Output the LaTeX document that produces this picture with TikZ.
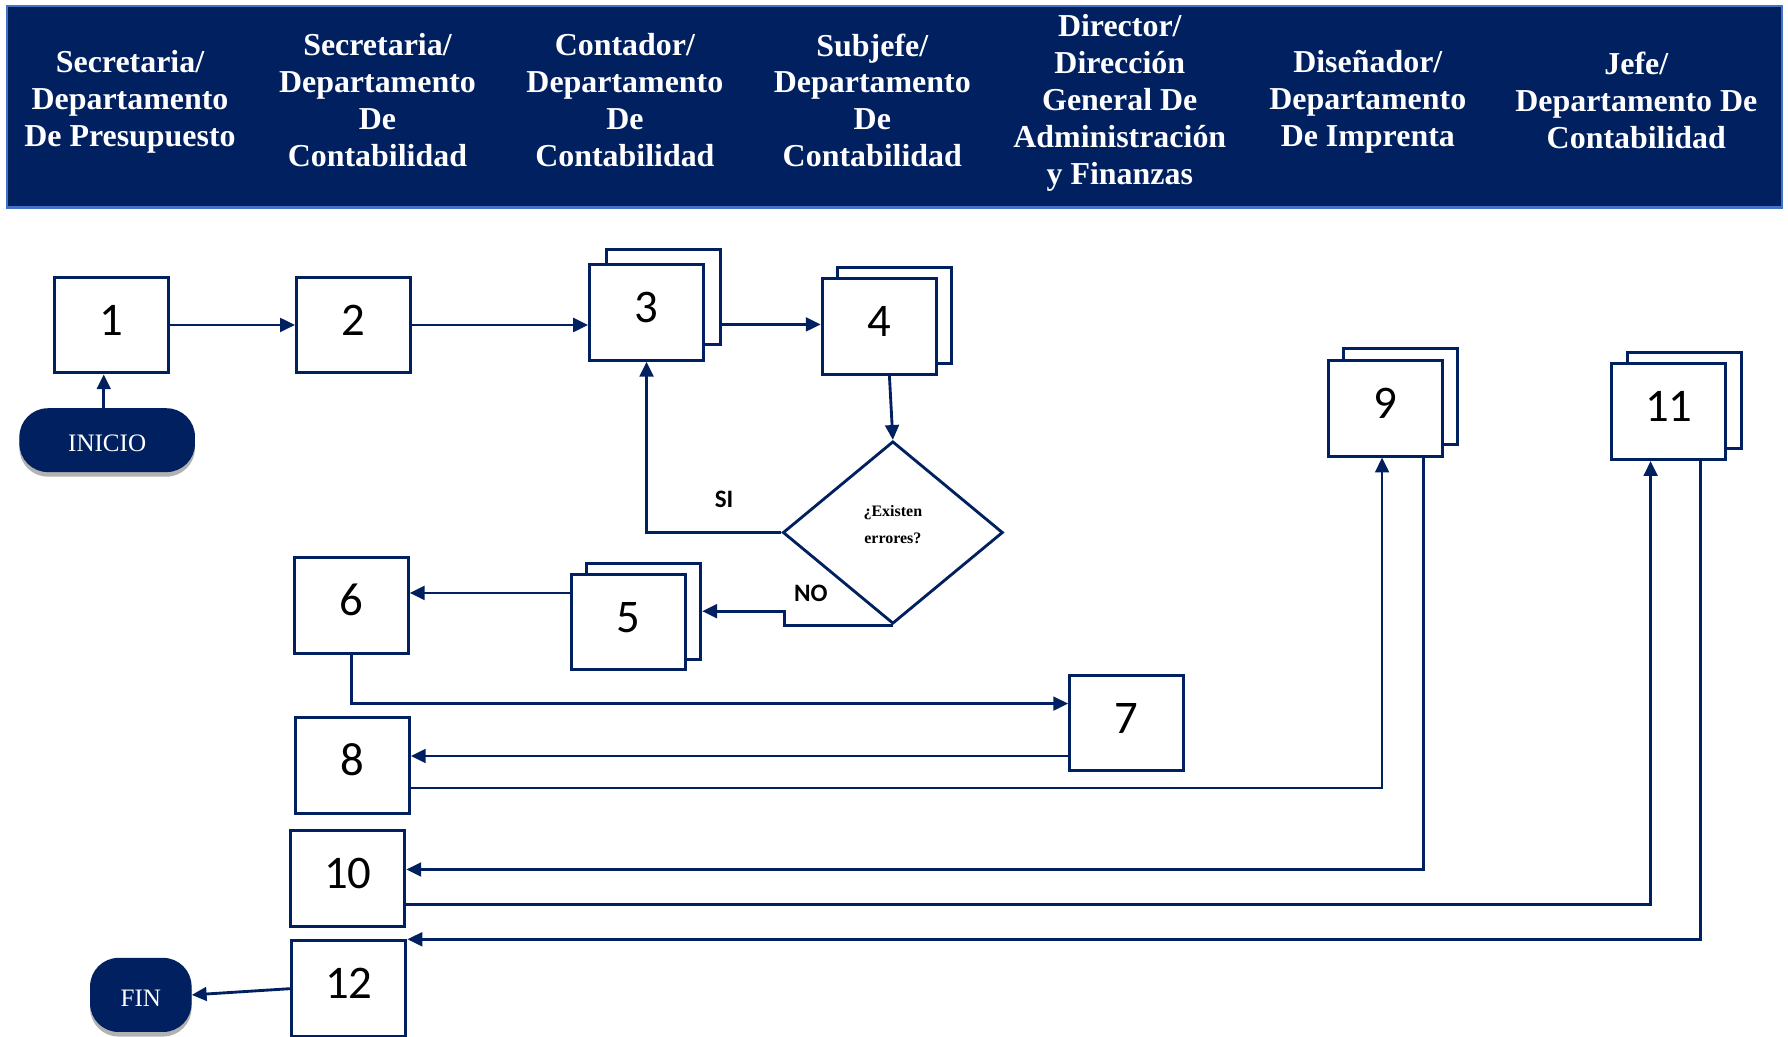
\documentclass[tikz,border=0pt]{standalone}
\usepackage{fontspec}
\setmainfont{Liberation Serif}
\newfontfamily\numfont{Carlito}
\usetikzlibrary{arrows.meta,shapes.geometric,shadows,calc}
\definecolor{navy}{RGB}{0,32,96}
\definecolor{rimblue}{RGB}{68,114,196}

\begin{document}
\begin{tikzpicture}[x=1pt,y=-1pt,
  flow/.style={draw=navy,line width=2.5pt,-{Triangle[length=13pt,width=12pt]}},
  stepbox/.style={draw=navy,line width=2.6pt,fill=white,minimum width=100pt,
    minimum height=84pt,inner sep=0pt,text height=18pt,text depth=0pt,
    font=\numfont\fontsize{41}{41}\selectfont},
  hdr/.style={text=white,align=center,inner sep=0pt,
    font=\bfseries\fontsize{28}{32.4}\selectfont},
  terminal/.style={fill=navy,rounded corners=25pt,text=white,inner sep=0pt,
    text height=20pt,text depth=0pt,font=\fontsize{22}{22}\selectfont,
    drop shadow={shadow xshift=0pt,shadow yshift=-4pt,fill=black,opacity=0.3}},
  decision/.style={diamond,draw=navy,line width=2.5pt,fill=white,inner sep=0pt,
    minimum width=193pt,minimum height=160pt},
  dectxt/.style={align=center,inner sep=0pt,
    font=\bfseries\fontsize{14}{23}\selectfont},
  branch/.style={font=\numfont\bfseries\fontsize{22}{22}\selectfont,inner sep=0pt}
]
% page
\path[fill=white,use as bounding box] (0,0) rectangle (1568,909);

% header band with the roles
\node[fill=navy,draw=rimblue,line width=2pt,minimum width=1557pt,minimum height=177pt,inner sep=0pt]
  (band) at (784.5,93.5) {};
\node[hdr] (h1) at (114,89) {Secretaria/\\Departamento\\De Presupuesto};
\node[hdr] (h2) at (331,88) {Secretaria/\\Departamento\\De\\Contabilidad};
\node[hdr] (h3) at (548,88) {Contador/\\Departamento\\De\\Contabilidad};
\node[hdr] (h4) at (765,88) {Subjefe/\\Departamento\\De\\Contabilidad};
\node[hdr] (h5) at (982,90) {Director/\\Dirección\\General De\\Administración\\y Finanzas};
\node[hdr] (h6) at (1199.5,89) {Diseñador/\\Departamento\\De Imprenta};
\node[hdr] (h7) at (1435,88) {Jefe/\\Departamento De\\Contabilidad};

% terminals
\node[terminal,minimum width=154pt,minimum height=56pt] (ini) at (94,386) {INICIO};
\node[terminal,minimum width=89pt,minimum height=65pt] (fin) at (123.5,872.5) {FIN};

% steps (stacked ones get a sheet behind them)
\node[stepbox] (b1) at (98,285) {1};
\node[stepbox] (b2) at (310,285) {2};
\node[stepbox] (b3b) at (581.5,260.5) {};
\node[stepbox] (b3) at (567,274) {3};
\node[stepbox] (b4b) at (784.5,276.5) {};
\node[stepbox] (b4) at (771,286.5) {4};
\node[stepbox] (b5b) at (564.5,536) {};
\node[stepbox] (b5) at (551,545.5) {5};
\node[stepbox] (b6) at (308,531) {6};
\node[stepbox] (b7) at (988,634) {7};
\node[stepbox] (b8) at (309,671) {8};
\node[stepbox] (b9b) at (1228,347.5) {};
\node[stepbox] (b9) at (1215,358) {9};
\node[stepbox] (b10) at (305,770.5) {10};
\node[stepbox] (b11b) at (1477,351) {};
\node[stepbox] (b11) at (1463.5,361) {11};
\node[stepbox] (b12) at (306,867) {12};

% decision
\node[decision] (dec) at (783,467) {};
\node[dectxt] (dectext) at (783,460) {¿Existen\\errores?};
\node[branch] (si) at (635,438) {SI};
\node[branch] (no) at (711,520) {NO};

% attachment points
\coordinate (p56) at ($(b6.east)+(0,-11)$);
\coordinate (p67) at ($(b7.west)+(0,-17)$);
\coordinate (p78) at ($(b7.west)+(0,29)$);
\coordinate (p89) at ($(b8.east)+(0,20)$);
\coordinate (in9) at ($(b9.south)+(-3,0)$);
\coordinate (q9) at ($(b9.south)+(33,0)$);
\coordinate (p910) at ($(b10.east)+(0,-8)$);
\coordinate (p1011) at ($(b10.east)+(0,23)$);
\coordinate (in11) at ($(b11.south)+(-16,0)$);
\coordinate (q11) at ($(b11.south)+(28,0)$);
\coordinate (in1) at ($(ini.north)+(-3,0)$);
\coordinate (out4) at ($(b4.south)+(9,0)$);
\coordinate (nobend) at ($(dec.south)+(-95,0)$);
\coordinate (p34) at ($(b4.west)+(0,-2)$);

% connectors
\draw[flow] (in1) -- (in1 |- b1.south);
\draw[flow] (b1.east) -- (b2.west);
\draw[flow] (b2.east) -- (b2.east -| b3.west);
\draw[flow] (p34 -| b3b.east) -- (p34);
\draw[flow] (out4) -- (dec.north);
\draw[flow] (dec.west) -| (b3.south);
\draw[flow] (dec.south) -- (nobend) |- (b5b.east);
\draw[flow] (p56 -| b5.west) -- (p56);
\draw[flow] (b6.south) |- (p67);
\draw[flow] (p78) -- (p78 -| b8.east);
\draw[flow] (p89) -| (in9);
\draw[flow] (q9) |- (p910);
\draw[flow] (p1011) -| (in11);
\draw[flow] (q11) |- (b12.north east);
\draw[flow] (b12.west) -- (fin.east);
\end{tikzpicture}
\end{document}
